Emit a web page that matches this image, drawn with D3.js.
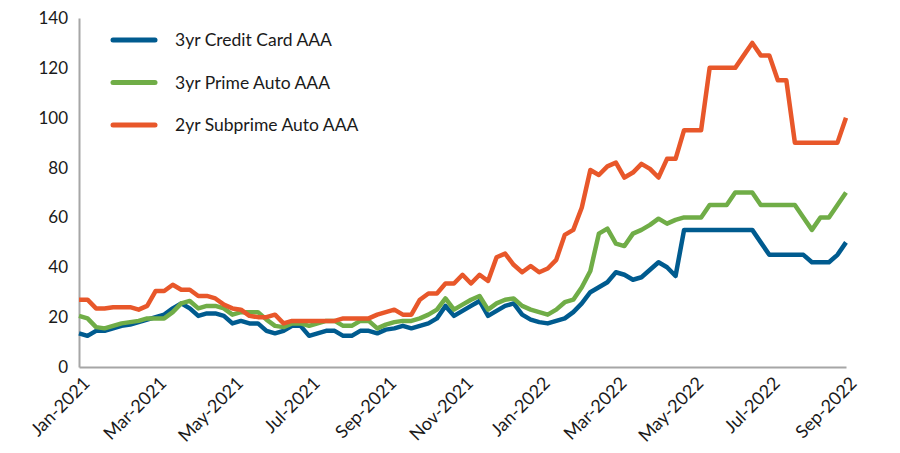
<!DOCTYPE html>
<html>
<head>
<meta charset="utf-8">
<script src="https://cdn.jsdelivr.net/npm/d3@7"></script>
<style>
  body { margin: 0; background: #fff; }
  text { font-family: Lato, "Open Sans", sans-serif; fill: #1a1a1a; }
</style>
</head>
<body>
<div id="main"></div>
<script>
// weekly spreads, Jan-2021 to Sep-2022
let tickLabels = ["Jan-2021", "Mar-2021", "May-2021", "Jul-2021", "Sep-2021", "Nov-2021",
    "Jan-2022", "Mar-2022", "May-2022", "Jul-2022", "Sep-2022"]
let yTicks = [0, 20, 40, 60, 80, 100, 120, 140]
let seriesNames = ["3yr Credit Card AAA", "3yr Prime Auto AAA", "2yr Subprime Auto AAA"]

let creditCard = [13.5, 12.5, 14.5, 14.5, 15.5, 16.5, 17, 18, 19, 20,
    21, 23.5, 25.5, 23.5, 20.5, 21.5, 21.5, 20.5, 17.5, 18.5,
    17.5, 17.5, 14.5, 13.5, 14.5, 16.5, 16.5, 12.5, 13.5, 14.5,
    14.5, 12.5, 12.5, 14.5, 14.5, 13.5, 15, 15.5, 16.5, 15.5,
    16.5, 17.5, 19.5, 24.5, 20.5, 22.5, 24.5, 26.5, 20.5, 22.5,
    24.5, 25.5, 21, 19, 18, 17.5, 18.5, 19.5, 22, 25.5,
    30, 32, 34, 38, 37, 35, 36, 39, 42, 40,
    36.5, 55, 55, 55, 55, 55, 55, 55, 55, 55,
    50, 45, 45, 45, 45, 45, 42, 42, 42, 45, 50]
let primeAuto = [20.5, 19.5, 16, 15.5, 16.5, 17.5, 18, 18.5, 19.5, 19.5,
    19.5, 22, 25.5, 26.5, 23.5, 24.5, 24.5, 23.5, 21, 22,
    22, 22, 19, 16.5, 16, 17.5, 17.5, 16.5, 17.5, 18.5,
    18.5, 16.5, 16.5, 18.5, 18.5, 15.5, 17, 18, 18.5, 18.5,
    19.5, 21, 23, 27.5, 23, 25, 27, 28.5, 23, 25.5,
    27, 27.5, 24.5, 23, 22, 21, 23, 26, 27, 32,
    38.5, 53.5, 55.5, 49.5, 48.5, 53.5, 55, 57, 59.5, 57.5,
    59, 60, 60, 60, 65, 65, 65, 70, 70, 70,
    65, 65, 65, 65, 65, 60, 55, 60, 60, 65, 70]
let subprimeAuto = [27, 27, 23.5, 23.5, 24, 24, 24, 23, 24.5, 30.5,
    30.5, 33, 31, 31, 28.5, 28.5, 27.5, 25, 23.5, 23,
    20.5, 20, 20, 21, 17.5, 18.5, 18.5, 18.5, 18.5, 18.5,
    18.5, 19.5, 19.5, 19.5, 19.5, 21, 22, 23, 21, 21,
    27, 29.5, 29.5, 33.5, 33.5, 37, 33.5, 37, 34.5, 44,
    45.5, 41, 38, 40.5, 38, 39.5, 43, 53, 55, 64,
    79, 77, 80.5, 82, 76, 78, 81.5, 79.5, 76, 83.5,
    83.5, 95, 95, 95, 120, 120, 120, 120, 125, 130,
    125, 125, 115, 115, 90, 90, 90, 90, 90, 90, 100]

let color = ["#005b8f", "#70ad47", "#e8572a"]

function graphData() {
    let margin = {top: 18, right: 54, bottom: 86, left: 79}
    let pxX = 900 - margin.left - margin.right,
        pxY = 453 - margin.top - margin.bottom

    let svg = d3.select("#main").append("svg")
        .attr("width", 900)
        .attr("height", 453)
        .append("g")
        .attr("transform", `translate(${margin.left} ${margin.top})`)

    let series = [creditCard, primeAuto, subprimeAuto]
    let n = creditCard.length

    let scX = d3.scaleLinear().domain([0, n - 1]).range([0, pxX])
    let scY = d3.scaleLinear().domain([0, 140]).range([pxY, 0])

    //axes
    let yAxis = svg.append("g")
        .call(d3.axisLeft(scY).tickValues(yTicks).tickSize(0).tickSizeOuter(0).tickPadding(11))
    yAxis.select(".domain").attr("stroke", "#a6a6a6").attr("stroke-width", 2)
    yAxis.selectAll("text").style("font-size", "17px")

    let labelIdx = d3.range(0, n, 9)
    let xAxis = svg.append("g")
        .attr("transform", `translate(0, ${pxY})`)
        .call(d3.axisBottom(scX).tickValues(labelIdx).tickSize(0).tickSizeOuter(0)
            .tickFormat((d, i) => tickLabels[i]))
    xAxis.select(".domain").attr("stroke", "#a6a6a6").attr("stroke-width", 2)
    xAxis.selectAll("text")
        .style("font-size", "18px")
        .attr("text-anchor", "end")
        .attr("x", 0)
        .attr("y", 0)
        .attr("dy", "0.35em")
        .attr("transform", "translate(7, 13) rotate(-45)")

    let makeLine = d3.line()
        .x((d, i) => scX(i))
        .y(d => scY(d))

    series.forEach((vals, idx) => {
        svg.append("path")
            .attr("d", makeLine(vals))
            .attr("fill", "none")
            .attr("stroke", color[idx])
            .attr("stroke-width", 4.5)
            .attr("stroke-linejoin", "round")
    })

    //legend
    let legend = svg.append("g").attr("transform", "translate(34, 22)")
    seriesNames.forEach((name, idx) => {
        legend.append("line")
            .attr("x1", 0).attr("x2", 42)
            .attr("y1", idx * 42.5).attr("y2", idx * 42.5)
            .attr("stroke", color[idx])
            .attr("stroke-width", 5)
            .attr("stroke-linecap", "round")
        legend.append("text")
            .attr("x", 62)
            .attr("y", idx * 42.5)
            .attr("dy", "0.35em")
            .style("font-size", "17.5px")
            .text(name)
    })
}

graphData()
</script>
</body>
</html>
